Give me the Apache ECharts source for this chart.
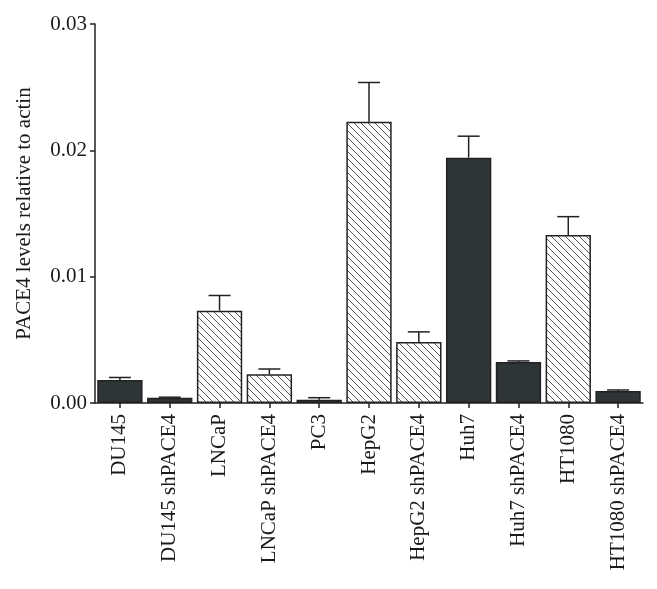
<!DOCTYPE html>
<html>
<head>
<meta charset="utf-8">
<script src="https://cdn.jsdelivr.net/npm/echarts@6/dist/echarts.min.js"></script>
<style>
html,body{margin:0;padding:0;background:#fff;}
#chart{width:657px;height:589px;}
</style>
</head>
<body>
<div id="chart"></div>
<script>
var categories = ['DU145','DU145 shPACE4','LNCaP','LNCaP shPACE4','PC3','HepG2','HepG2 shPACE4','Huh7','Huh7 shPACE4','HT1080','HT1080 shPACE4'];
var means = [0.00182, 0.00042, 0.00731, 0.00227, 0.00026, 0.02227, 0.00483, 0.01942, 0.00325, 0.0133, 0.00095];
var errors = [0.0002, 0.00004, 0.0012, 0.00042, 0.00016, 0.0031, 0.0008, 0.0017, 0.00008, 0.00145, 0.00008];
var hatched = [false, false, true, true, false, true, true, false, false, true, false];
var yTicks = ['0.00','0.01','0.02','0.03'];

var FONT = '"Liberation Serif", "DejaVu Serif", serif';

function makeHatch() {
  var s = 7;
  var c = document.createElement('canvas');
  c.width = s; c.height = s;
  var g = c.getContext('2d');
  g.fillStyle = '#ffffff';
  g.fillRect(0, 0, s, s);
  g.strokeStyle = '#555555';
  g.lineWidth = 1;
  g.beginPath();
  g.moveTo(-1, -1); g.lineTo(s + 1, s + 1);
  g.moveTo(-1, s - 1); g.lineTo(1, s + 1);
  g.moveTo(s - 1, -1); g.lineTo(s + 1, 1);
  g.stroke();
  return c;
}
var hatchPattern = { image: makeHatch(), repeat: 'repeat' };

var barData = means.map(function (v, i) {
  return {
    value: v,
    itemStyle: {
      color: hatched[i] ? hatchPattern : '#2f3537',
      borderColor: '#222222',
      borderWidth: 1.5
    }
  };
});

var errData = means.map(function (v, i) { return [i, v, v + errors[i]]; });

var chart = echarts.init(document.getElementById('chart'), null, { renderer: 'canvas' });
chart.setOption({
  animation: false,
  backgroundColor: '#ffffff',
  grid: { left: 95, right: 14, top: 24, bottom: 186, containLabel: false },
  xAxis: {
    type: 'category',
    data: categories,
    axisLine: { show: true, lineStyle: { color: '#222', width: 1.5 } },
    axisTick: { show: true, alignWithLabel: true, length: 5, lineStyle: { color: '#222', width: 1.5 } },
    axisLabel: {
      rotate: 90, interval: 0, margin: 11,
      fontFamily: FONT, fontSize: 21, color: '#1a1a1a'
    },
    splitLine: { show: false }
  },
  yAxis: {
    type: 'value',
    min: 0, max: 0.03, interval: 0.01,
    name: 'PACE4 levels relative to actin',
    nameLocation: 'middle',
    nameGap: 60,
    nameTextStyle: { fontFamily: FONT, fontSize: 21, color: '#1a1a1a' },
    axisLine: { show: true, lineStyle: { color: '#222', width: 1.5 } },
    axisTick: { show: true, length: 5, lineStyle: { color: '#222', width: 1.5 } },
    axisLabel: {
      margin: 8, fontFamily: FONT, fontSize: 21, color: '#1a1a1a',
      formatter: function (v) { return yTicks[Math.round(v / 0.01)]; }
    },
    splitLine: { show: false }
  },
  series: [
    {
      type: 'bar',
      data: barData,
      barCategoryGap: '9%',
      z: 2
    },
    {
      type: 'custom',
      data: errData,
      z: 3,
      renderItem: function (params, api) {
        var i = api.value(0);
        var lo = api.coord([i, api.value(1)]);
        var hi = api.coord([i, api.value(2)]);
        var hw = 11;
        return {
          type: 'group',
          children: [
            { type: 'line', shape: { x1: lo[0], y1: lo[1], x2: hi[0], y2: hi[1] }, style: { stroke: '#222', lineWidth: 1.5 } },
            { type: 'line', shape: { x1: hi[0] - hw, y1: hi[1], x2: hi[0] + hw, y2: hi[1] }, style: { stroke: '#222', lineWidth: 1.5 } }
          ]
        };
      }
    }
  ]
});
</script>
</body>
</html>
